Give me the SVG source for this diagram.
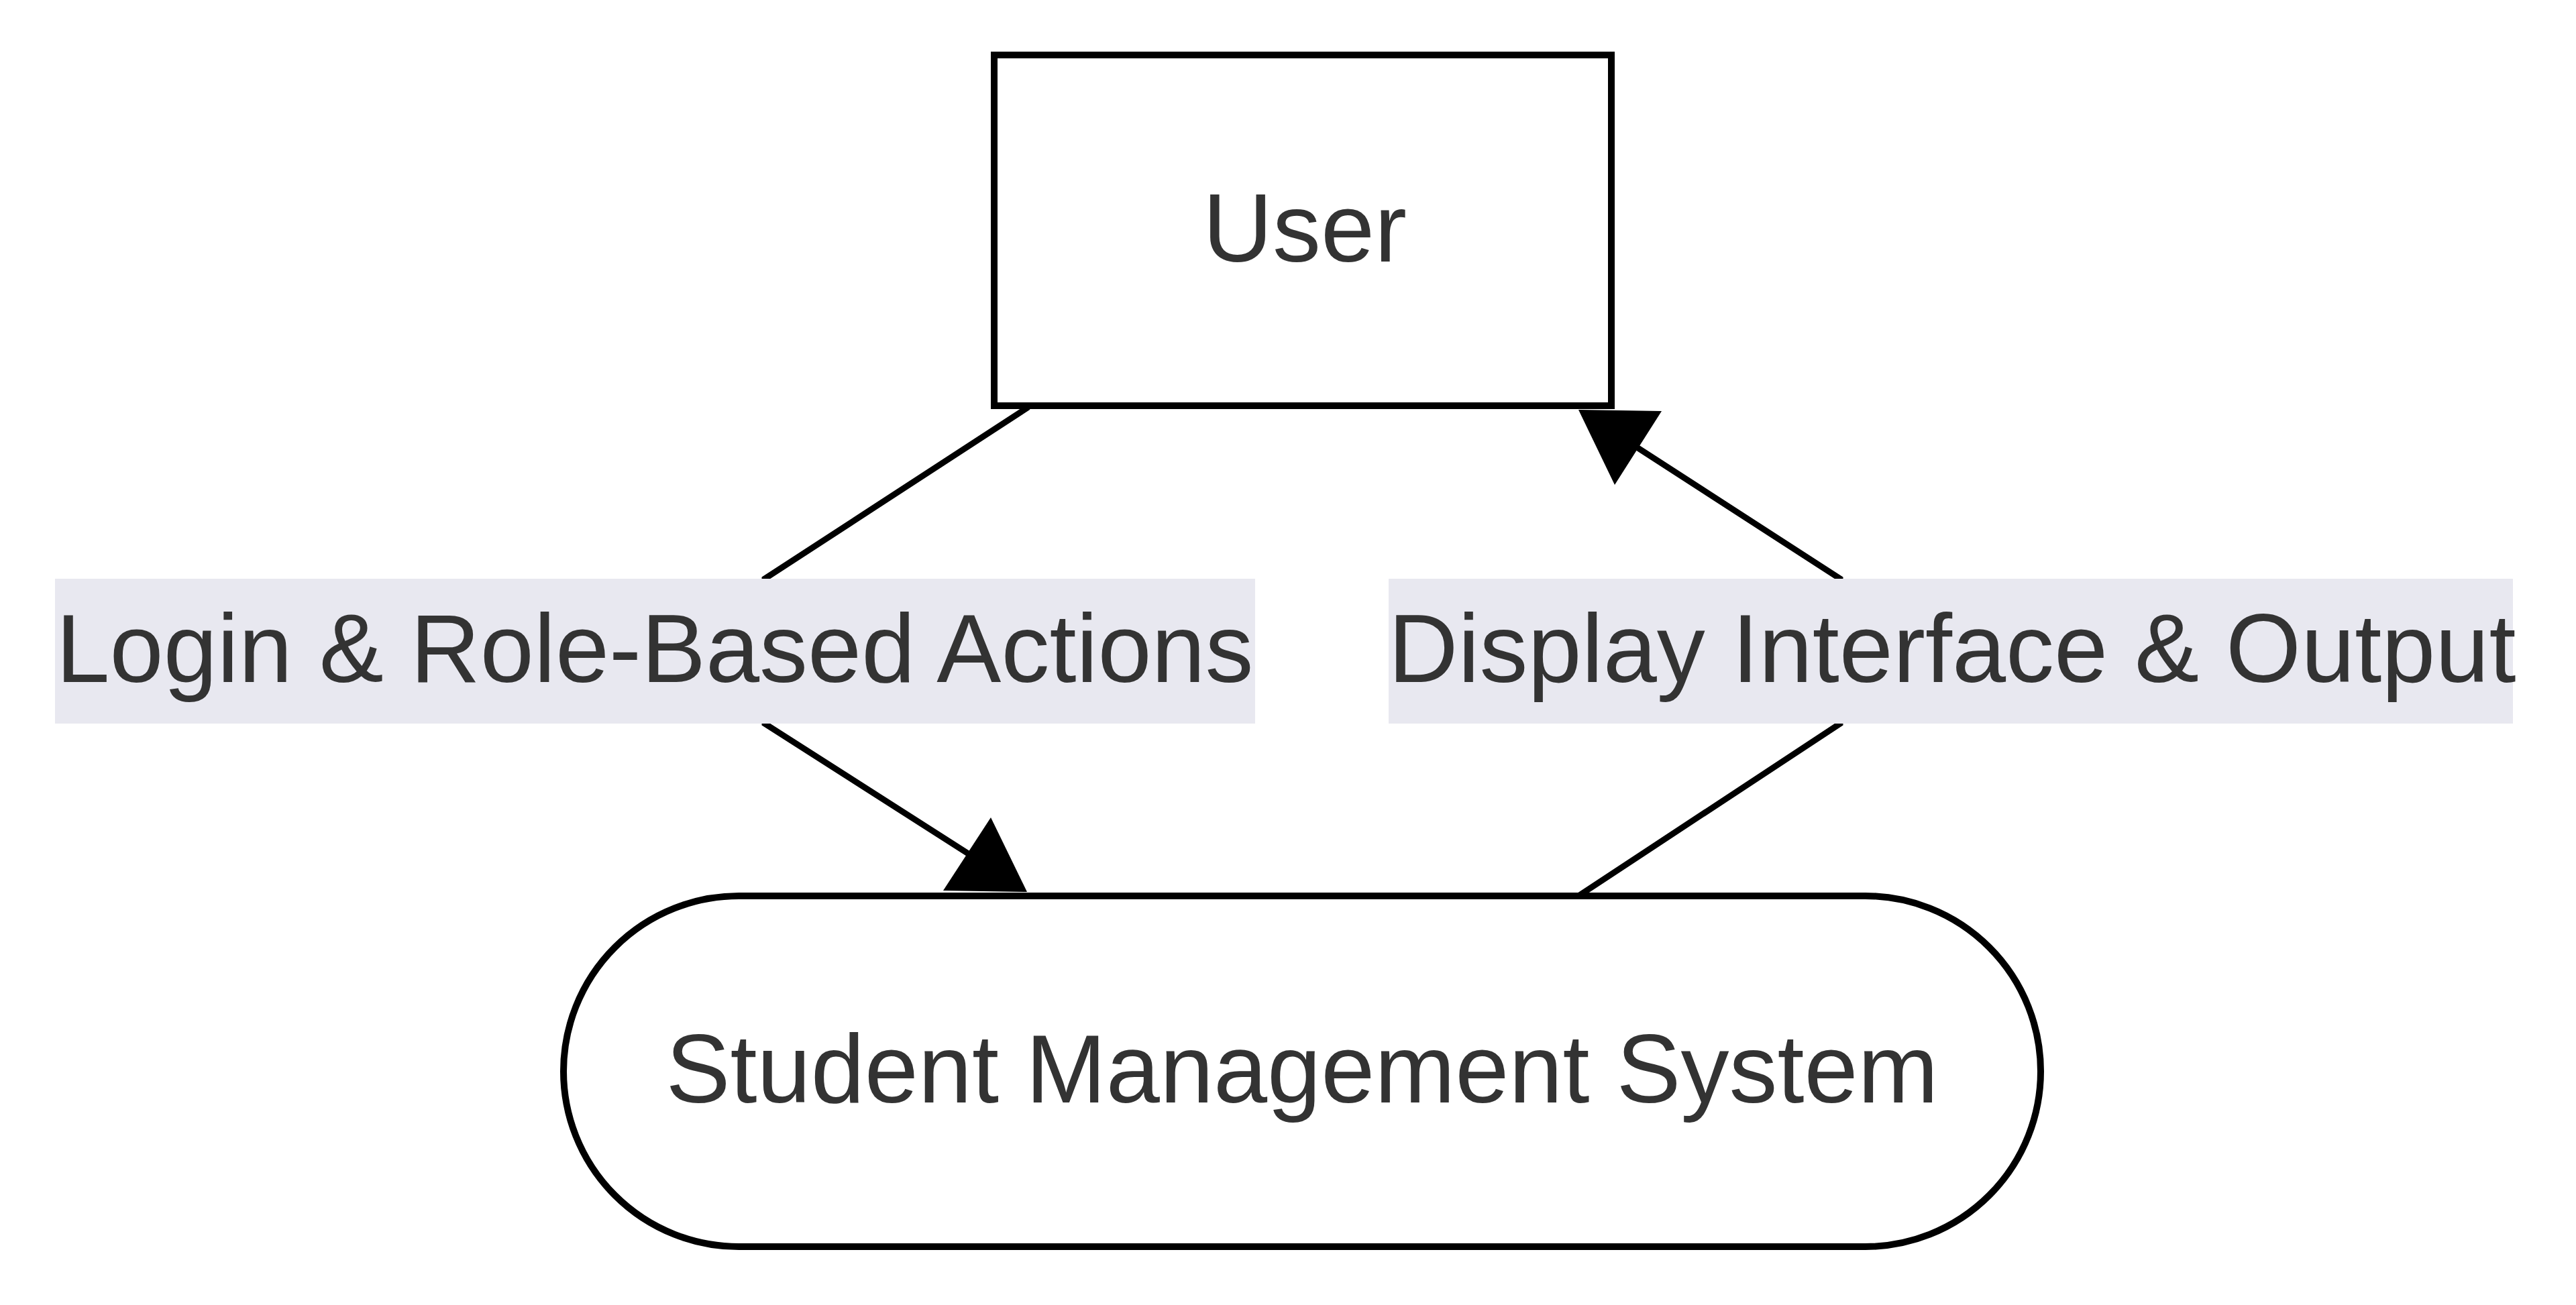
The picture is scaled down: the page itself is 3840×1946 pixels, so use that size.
<svg xmlns="http://www.w3.org/2000/svg" width="3840" height="1946" viewBox="0 0 3840 1946">
  <style>
    .node { fill: #ffffff; stroke: #000000; stroke-width: 10; }
    .nlabel { font-family: "Liberation Sans", Arial, sans-serif; font-size: 144px; fill: #333333; text-anchor: middle; }
    .edge { fill: none; stroke: #000000; stroke-width: 9; stroke-linejoin: miter; }
    .arrowhead { fill: #000000; stroke: none; }
    .elabel-bg { fill: #e8e8f0; stroke: none; }
  </style>
  <rect width="3840" height="1946" fill="#ffffff"/>

  <g id="connectors">
    <g id="edge-user-sms">
      <polyline class="edge" points="1533,607 1140,863 1140,1079 1470,1290"/>
      <polygon class="arrowhead" points="1406,1328 1477,1219 1531,1330"/>
    </g>
    <g id="edge-sms-user">
      <polyline class="edge" points="2353,1336 2743,1079 2743,863 2420,654"/>
      <polygon class="arrowhead" points="2353,611 2407,723 2477,613"/>
    </g>
    <g id="label-login">
      <rect class="elabel-bg" x="82" y="863" width="1789" height="216"/>
      <text class="nlabel" x="976" y="1017">Login &amp; Role-Based Actions</text>
    </g>
    <g id="label-display">
      <rect class="elabel-bg" x="2070" y="863" width="1676" height="216"/>
      <text class="nlabel" x="2910" y="1017">Display Interface &amp; Output</text>
    </g>
  </g>

  <g id="node-user">
    <rect class="node" x="1482" y="82" width="920" height="523"/>
    <text class="nlabel" x="1945" y="390">User</text>
  </g>

  <g id="node-sms">
    <rect class="node" x="840" y="1336" width="2202" height="523" rx="261.5" ry="261.5"/>
    <text class="nlabel" x="1941" y="1644">Student Management System</text>
  </g>
</svg>
